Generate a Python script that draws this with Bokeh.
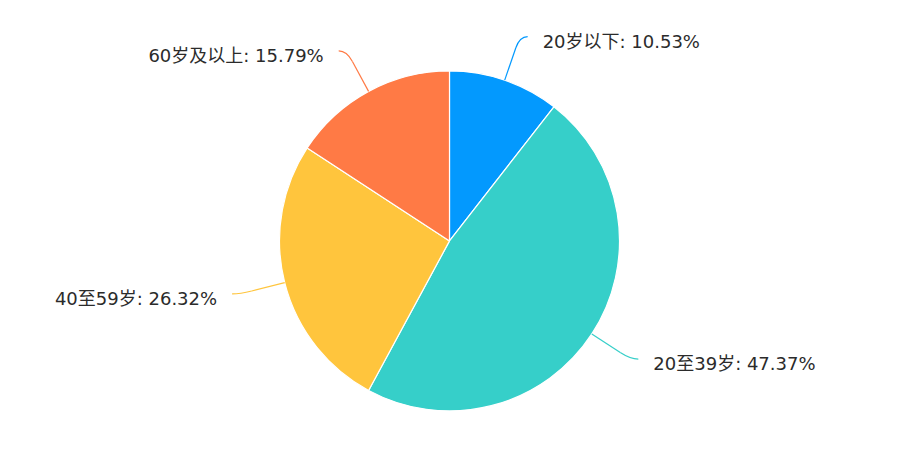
import math

from bokeh.core.properties import value
from bokeh.embed import file_html
from bokeh.models import ColumnDataSource, Range1d
from bokeh.plotting import figure
from bokeh.resources import INLINE

# Age groups and their share (%)
categories = ["20岁以下", "20至39岁", "40至59岁", "60岁及以上"]
percents = [10.53, 47.37, 26.32, 15.79]
colors = ["#0399FE", "#36CFC9", "#FFC53D", "#FF7A45"]

W, H = 885, 434
cx, cy = 449, 193.6      # pie centre (data units = screen pixels)
radius = 170
len1, len2 = 46, 8       # leader line: radial part, horizontal part

total = sum(percents)
starts, ends, mids = [], [], []
acc = 0.0
for v in percents:
    a0 = math.pi / 2 - acc / total * 2 * math.pi
    acc += v
    a1 = math.pi / 2 - acc / total * 2 * math.pi
    starts.append(a0)
    ends.append(a1)
    mids.append((a0 + a1) / 2)

p = figure(width=W, height=H, output_backend="svg", toolbar_location=None,
           x_range=Range1d(0, W), y_range=Range1d(0, H),
           x_axis_location=None, y_axis_location=None, min_border=0)
p.outline_line_color = None
p.grid.visible = False

src = ColumnDataSource(dict(start=starts, end=ends, color=colors))
p.wedge(x=cx, y=cy, radius=radius, radius_units="screen", start_angle="start", end_angle="end",
        direction="clock", fill_color="color", line_color="white", line_width=1.2, source=src)

# Leader lines and labels
for cat, pct, a, col in zip(categories, percents, mids, colors):
    sx, sy = cx + radius * math.cos(a), cy + radius * math.sin(a)
    kx, ky = cx + (radius + len1) * math.cos(a), cy + (radius + len1) * math.sin(a)
    side = 1 if math.cos(a) >= 0 else -1
    ex, ey = kx + side * len2, ky
    bx = cx + (radius + len1 - 12) * math.cos(a)
    by = cy + (radius + len1 - 12) * math.sin(a)
    p.line([sx, bx], [sy, by], line_color=col, line_width=1.2)
    p.quadratic(x0=bx, y0=by, x1=ex, y1=ey, cx=kx, cy=ky, line_color=col, line_width=1.2)
    p.text(x=[ex + side * 15], y=[ey - 4.5], text=[f"{cat}: {pct:.2f}%"],
           text_align="left" if side > 0 else "right", text_baseline="middle",
           text_font=value("DejaVu Sans, Noto Sans CJK SC"), text_font_size="18px",
           text_color="#2b2b2b")

open("out.html", "w").write(file_html(p, INLINE))
